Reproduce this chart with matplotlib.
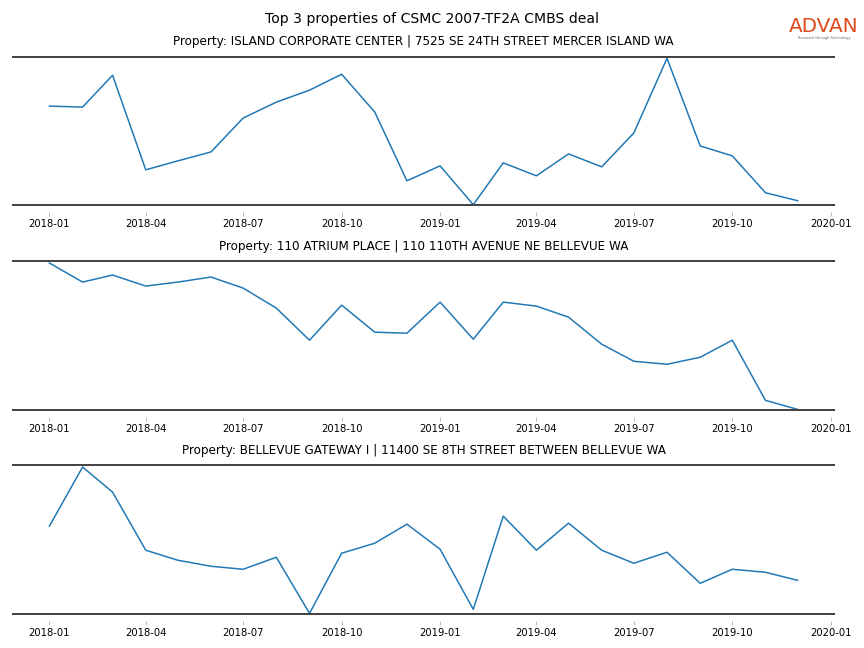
import matplotlib
matplotlib.use("Agg")
import matplotlib.pyplot as plt
import matplotlib.dates as mdates
import pandas as pd
import numpy as np

months = pd.date_range("2018-01-01", "2019-12-01", freq="MS")

titles = [
    "Property: ISLAND CORPORATE CENTER | 7525 SE 24TH STREET MERCER ISLAND WA",
    "Property: 110 ATRIUM PLACE | 110 110TH AVENUE NE BELLEVUE WA",
    "Property: BELLEVUE GATEWAY I | 11400 SE 8TH STREET BETWEEN BELLEVUE WA",
]
island = [199, 198, 230, 135, 144, 153, 187, 203, 215, 231, 193, 124,
          139, 100, 142, 129, 151, 138, 172, 247, 159, 149, 112, 104]
atrium = [246, 227, 234, 223, 227, 232, 221, 201, 169, 204, 177, 176,
          207, 170, 207, 203, 192, 165, 148, 145, 152, 169, 109, 100]
gateway = [187, 246, 221, 163, 153, 147, 144, 156, 100, 160, 170, 189,
           164, 104, 197, 163, 190, 163, 150, 161, 130, 144, 141, 133]
series = [island, atrium, gateway]
tick_dates = pd.date_range("2018-01-01", "2020-01-01", freq="3MS")

fig = plt.figure(figsize=(12, 9), dpi=72)
fig.suptitle("Top 3 properties of CSMC 2007-TF2A CMBS deal", fontsize=14,
             y=1 - 19 / 648, va="center")

W, H = 864, 648
tops = [51, 255.7, 459.7]
height = 161
for i, (t, vals) in enumerate(zip(titles, series)):
    top = tops[i]
    ax = fig.add_axes([12 / W, 1 - (top + height) / H, (835 - 12) / W, height / H])
    ax.plot(months, vals, color="#1f77b4", lw=1.5)
    rng = max(vals) - min(vals)
    ax.axhline(max(vals) + rng * 0.012, color="#444444", lw=2)
    ax.axhline(min(vals) - rng * 0.005, color="#444444", lw=2)
    for s in ax.spines.values():
        s.set_visible(False)
    ax.set_yticks([])
    ax.set_xticks(tick_dates)
    ax.xaxis.set_major_formatter(mdates.DateFormatter("%Y-%m"))
    ax.tick_params(axis="x", colors="#aaaaaa", labelcolor="black", labelsize=10, length=3.5)
    ax.set_title(t, fontsize=12)

fig.text(824 / W, 1 - 27 / H, "ADVAN", color="#e04a1f", fontsize=20, ha="center", va="center")
fig.text(824 / W, 1 - 38 / H, "Research through Technology", color="#666666", fontsize=3.5,
         ha="center", va="center")

fig.savefig("out.png", dpi=72)
